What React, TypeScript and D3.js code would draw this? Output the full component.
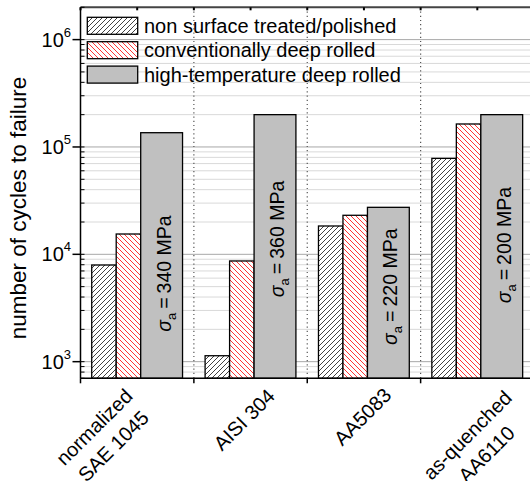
import React from "react";
import * as d3 from "d3";

const categories: string[][] = [["normalized", "SAE 1045"], ["AISI 304"], ["AA5083"], ["as-quenched", "AA6110"]];
const seriesNames = ["non surface treated/polished", "conventionally deep rolled", "high-temperature deep rolled"];
const untreated = [7950, 1136, 18360, 78300];
const conventional = [15460, 8670, 23100, 163700];
const highTemp = [135800, 200000, 27400, 200000];
const stressAmplitudes = ["340", "360", "220", "200"];
const yTickValues = [1e3, 1e4, 1e5, 1e6];

// layout constants
const W = 530, H = 481;
const left = 80.5, right = 534, top = 7.3, bottom = 378.3;
const barLayout = [[0.099, 0.315], [0.315, 0.531], [0.531, 0.9]];
const sigmaCenters = [6620, 13900, 4990, 12200];
const labelOffsets = [[-32, 438], [-5, 421], [0, 418], [1, 446]];
const FONT = "'Liberation Sans', Arial, Helvetica, sans-serif";

export default function App() {
  const keys = categories.map((c) => c.join(" "));
  const x = d3.scaleBand<string>().domain(keys).range([left, right]).padding(0);
  const bw = x.bandwidth();
  const y = d3.scaleLog().domain([700, 2e6]).range([bottom, top]);
  const series = [untreated, conventional, highTemp];
  const fills = ["url(#hatchBlack)", "url(#hatchRed)", "#c0c0c0"];

  const minor: number[] = [];
  for (let e = 2; e <= 6; e++) {
    for (let m = 1; m <= 9; m++) {
      const v = m * Math.pow(10, e);
      if (v >= 700 && v <= 2e6) minor.push(v);
    }
  }

  const boundaries = d3.range(categories.length + 1).map((i) => left + i * bw);
  const halfTicks = d3.range(categories.length * 2 + 1).map((i) => left + (i * bw) / 2);

  return (
    <svg width={W} height={H} style={{ position: "absolute", left: 0, top: 0, background: "#fff" }} fontFamily={FONT}>
      <defs>
        <pattern id="hatchBlack" patternUnits="userSpaceOnUse" width={5} height={5}>
          <rect width={5} height={5} fill="#fff" />
          <path d="M0,5 L5,0 M-1,1 L1,-1 M4,6 L6,4" stroke="#111" strokeWidth={0.8} />
        </pattern>
        <pattern id="hatchRed" patternUnits="userSpaceOnUse" width={5} height={5}>
          <rect width={5} height={5} fill="#fff" />
          <path d="M0,0 L5,5 M-1,4 L1,6 M4,-1 L6,1" stroke="#ff0000" strokeWidth={0.8} />
        </pattern>
        <clipPath id="plotClip">
          <rect x={left} y={top} width={right - left} height={bottom - top} />
        </clipPath>
      </defs>

      {/* grid */}
      <g clipPath="url(#plotClip)">
        {minor.map((v, i) => {
          const major = Math.abs(Math.log10(v) - Math.round(Math.log10(v))) < 1e-9;
          return (
            <line key={i} x1={left} x2={right} y1={y(v)} y2={y(v)} stroke={major ? "#a8a8a8" : "#d9d9d9"} strokeWidth={1} />
          );
        })}
        {boundaries.slice(1, -1).map((bx, i) => (
          <line key={"d" + i} x1={bx} x2={bx} y1={top} y2={bottom} stroke="#555" strokeWidth={1.2} strokeDasharray="1.2,3" />
        ))}
      </g>

      {/* bars */}
      {keys.map((k, ci) => (
        <g key={k}>
          {series.map((s, si) => {
            const x0 = (x(k) as number) + barLayout[si][0] * bw;
            const x1 = (x(k) as number) + barLayout[si][1] * bw;
            return (
              <rect key={si} x={x0} y={y(s[ci])} width={x1 - x0} height={bottom - y(s[ci])} fill={fills[si]} stroke="#000" strokeWidth={1.3} />
            );
          })}
        </g>
      ))}

      {/* sigma annotations */}
      {keys.map((k, ci) => {
        const cx = (x(k) as number) + ((barLayout[2][0] + barLayout[2][1]) / 2) * bw;
        return (
          <text key={"s" + k} transform={`translate(${cx + 9},${y(sigmaCenters[ci])}) rotate(-90)`} textAnchor="middle" fontSize={19.5} fill="#000">
            <tspan fontStyle="italic">σ</tspan>
            <tspan fontSize={13} dy={5}>a</tspan>
            <tspan dy={-5} dx={4}>=</tspan>
            <tspan dx={4}>{`${stressAmplitudes[ci]} MPa`}</tspan>
          </text>
        );
      })}

      {/* axes */}
      <line x1={left} x2={right} y1={top} y2={top} stroke="#444" strokeWidth={2} />
      {halfTicks.map((tx, i) => (
        <line key={"tt" + i} x1={tx} x2={tx} y1={top} y2={top + 3} stroke="#000" strokeWidth={2} />
      ))}
      <line x1={left} x2={right} y1={bottom} y2={bottom} stroke="#000" strokeWidth={1.5} />
      {boundaries.map((bx, i) => (
        <line key={"bt" + i} x1={bx} x2={bx} y1={bottom} y2={bottom + 5} stroke="#000" strokeWidth={1.5} />
      ))}
      <line x1={left} x2={left} y1={top} y2={bottom} stroke="#000" strokeWidth={1.5} />
      {minor.map((v, i) => (
        <line key={"mt" + i} x1={left} x2={left + 4} y1={y(v)} y2={y(v)} stroke="#000" strokeWidth={1} />
      ))}
      {yTickValues.map((v) => (
        <g key={"yt" + v}>
          <line x1={left - 8} x2={left} y1={y(v)} y2={y(v)} stroke="#000" strokeWidth={1.5} />
          <text x={71} y={y(v) + 7} textAnchor="end" fontSize={20} fill="#000">
            <tspan>10</tspan>
            <tspan fontSize={13} dy={-10}>{String(Math.round(Math.log10(v)))}</tspan>
          </text>
        </g>
      ))}

      {/* y label */}
      <text transform={`translate(26,208) rotate(-90)`} textAnchor="middle" fontSize={22.5} fill="#000">
        number of cycles to failure
      </text>

      {/* x labels */}
      {keys.map((k, ci) => {
        const cx = (x(k) as number) + bw / 2;
        const lines = categories[ci];
        const [dx, by] = labelOffsets[ci];
        return (
          <text key={"xl" + k} transform={`translate(${cx + dx},${by}) rotate(-45)`} textAnchor="middle" fontSize={20} fill="#000">
            {lines.map((ln, li) => (
              <tspan key={li} x={0} y={(li - (lines.length - 1) / 2) * 27 + 5}>{ln}</tspan>
            ))}
          </text>
        );
      })}

      {/* legend */}
      {seriesNames.map((n, i) => (
        <g key={"lg" + i}>
          <rect x={87.3} y={17.3 + i * 24.4} width={50.4} height={17} fill={fills[i]} stroke="#000" strokeWidth={1.3} />
          <text x={144} y={33 + i * 24.4} fontSize={20} fill="#000">{n}</text>
        </g>
      ))}
    </svg>
  );
}
